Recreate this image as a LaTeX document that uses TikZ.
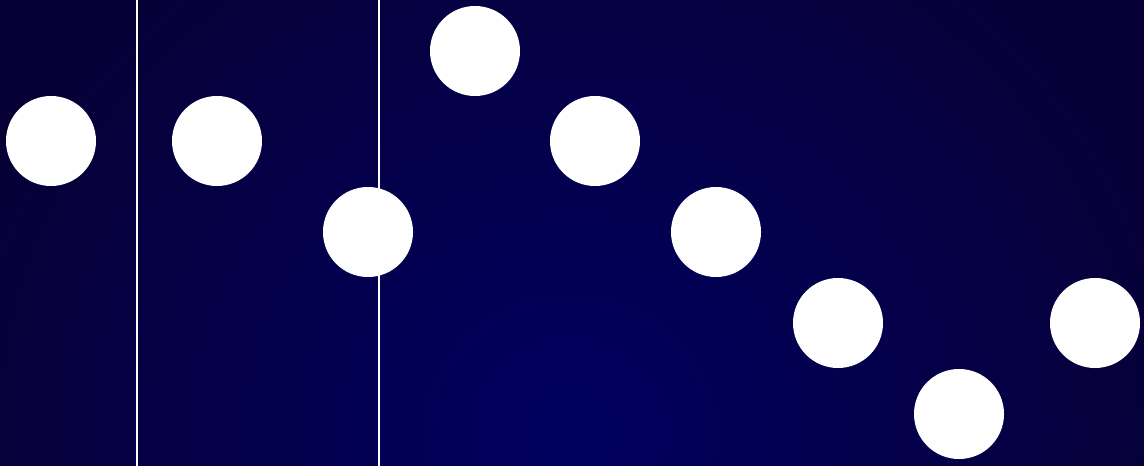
\documentclass[tikz,border=0pt]{standalone}
\usepackage{tikz}
\usetikzlibrary{positioning,calc}
\definecolor{nightCore}{RGB}{0,0,96}
\definecolor{nightEdge}{RGB}{7,0,54}

\begin{document}
\begin{tikzpicture}[
  x=0.025cm,y=-0.025cm,
  dot/.style={circle,fill=white,draw=none,minimum size=2.25cm,inner sep=0pt},
  rule/.style={draw=white,line width=1.8pt}
]
% Background
\useasboundingbox (0,0) rectangle (1144,466);
\begin{scope}
  \clip (0,0) rectangle (1144,466);
  \fill[nightEdge] (0,0) rectangle (1144,466);
  \shade[inner color=nightCore,outer color=nightEdge] (570,430) ellipse (640 and 600);
\end{scope}

% Vertical rules
\foreach \name/\xx in {ruleA/137, ruleB/379}
{
  \coordinate (\name top) at (\xx,0);
  \coordinate (\name bot) at (\xx,466);
  \draw[rule] (\name top) -- (\name bot);
}

% Dots
\foreach \name/\xx/\yy in {
  d1/51/141, d2/217/141, d3/368/232, d4/475/51, d5/595/141,
  d6/716/232, d7/838/323, d8/959/414, d9/1095/323}
{
  \node[dot] (\name) at (\xx,\yy) {};
}
\end{tikzpicture}
\end{document}
